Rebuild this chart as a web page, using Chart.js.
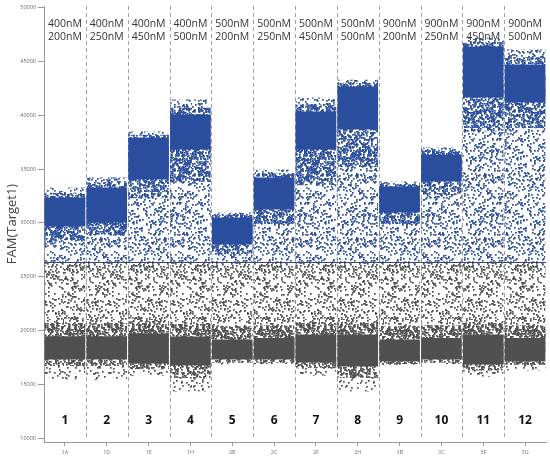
<!DOCTYPE html>
<html lang="en">
<head>
    <meta charset="UTF-8">
    <title>FAM(Target1) droplet amplitude</title>
    <script src="https://cdn.jsdelivr.net/npm/chart.js"></script>
    <style>
        html, body { margin: 0; padding: 0; background: #ffffff; }
        .chart-box { width: 550px; height: 461px; position: relative; }
    </style>
</head>
<body>
    <div class="chart-box">
        <canvas id="ampChart"></canvas>
    </div>

    <script>
        // wells and their primer/probe concentrations
        const wells = ['1A', '1D', '1E', '1H', '2B', '2C', '2F', '2H', '3B', '3C', '3F', '3G'];
        const wellNo = ['1', '2', '3', '4', '5', '6', '7', '8', '9', '10', '11', '12'];
        const primerConc = ['400nM', '400nM', '400nM', '400nM', '500nM', '500nM', '500nM', '500nM', '900nM', '900nM', '900nM', '900nM'];
        const probeConc = ['200nM', '250nM', '450nM', '500nM', '200nM', '250nM', '450nM', '500nM', '200nM', '250nM', '450nM', '500nM'];

        const threshold = 26400;
        const yTicks = [10000, 15000, 20000, 25000, 30000, 35000, 40000, 45000, 50000];

        // positive droplets (blue), amplitude ranges
        const blueCoreLow  = [29670, 30040, 34030, 36820, 27990, 31240, 36820, 38670, 30960, 33840, 41640, 41180];
        const blueCoreHigh = [32360, 33290, 37930, 40070, 30500, 34220, 40340, 42670, 33380, 36350, 46380, 44710];
        const blueHaloLow  = [28400, 28900, 32300, 33800, 27100, 29900, 33500, 35200, 29900, 32600, 38500, 38800];
        const blueHaloHigh = [32800, 33750, 38200, 40700, 30750, 34600, 41000, 43000, 33600, 36700, 46800, 45400];
        const blueTop      = [33290, 34220, 38490, 41460, 30960, 34960, 41640, 43300, 33840, 37000, 47200, 46100];

        // negative droplets (gray)
        const grayCoreLow  = [17320, 17320, 16950, 16760, 17320, 17320, 17040, 16670, 17130, 17320, 16850, 17130];
        const grayCoreHigh = [19480, 19480, 19730, 19450, 19170, 19300, 19640, 19640, 19170, 19300, 19640, 19300];
        const grayHaloLow  = [16700, 16700, 16400, 15600, 17000, 17000, 16500, 15600, 16900, 17000, 16300, 16800];
        const grayHaloHigh = [20700, 20700, 20900, 20600, 20400, 20500, 20800, 20800, 20400, 20500, 20800, 20500];
        const grayFloor    = [15460, 15400, 15800, 14350, 16800, 16900, 15800, 14350, 16800, 16900, 15700, 16300];

        const BLUE = '#2b4f9e';
        const GRAY = '#505050';

        // speckle texture for the sparse droplet areas (texture only, fixed seed)
        function speckle(color, density, seed) {
            const size = 64;
            const c = document.createElement('canvas');
            c.width = c.height = size;
            const g = c.getContext('2d');
            g.fillStyle = color;
            let s = seed;
            const next = () => (s = (s * 16807) % 2147483647) / 2147483647;
            const n = Math.round(size * size * density / 2.6);
            for (let i = 0; i < n; i++) {
                g.fillRect(Math.floor(next() * size), Math.floor(next() * size), 1.7, 1.7);
            }
            return g.createPattern(c, 'repeat');
        }

        const pair = (lo, hi) => lo.map((v, i) => [v, hi[i]]);
        const fillArr = v => wells.map(() => v);

        function layer(data, bg) {
            return {
                data: data,
                backgroundColor: bg,
                borderWidth: 0,
                grouped: false,
                inflateAmount: 0,
                barPercentage: 1,
                categoryPercentage: 0.97
            };
        }

        const datasets = [
            layer(pair(fillArr(threshold), blueTop), speckle(BLUE, 0.27, 11)),
            layer(pair(blueHaloLow, blueHaloHigh), speckle(BLUE, 0.55, 23)),
            layer(pair(blueCoreLow, blueCoreHigh), BLUE),
            layer(pair(grayCoreHigh, fillArr(threshold)), speckle(GRAY, 0.27, 37)),
            layer(pair(grayFloor, grayCoreLow), speckle(GRAY, 0.12, 41)),
            layer(pair(grayHaloLow, grayHaloHigh), speckle(GRAY, 0.55, 53)),
            layer(pair(grayCoreLow, grayCoreHigh), GRAY)
        ];

        // separators, threshold line and annotations
        const overlay = {
            id: 'overlay',
            beforeDatasetsDraw(chart) {
                const { ctx, chartArea, scales: { x } } = chart;
                ctx.save();
                ctx.strokeStyle = '#a0a0a0';
                ctx.lineWidth = 1;
                ctx.setLineDash([4, 3]);
                for (let i = 0; i < wells.length - 1; i++) {
                    const px = Math.round((x.getPixelForValue(i) + x.getPixelForValue(i + 1)) / 2) + 0.5;
                    ctx.beginPath();
                    ctx.moveTo(px, chartArea.top);
                    ctx.lineTo(px, chartArea.bottom - 2);
                    ctx.stroke();
                }
                ctx.restore();
            },
            afterDatasetsDraw(chart) {
                const { ctx, chartArea, scales: { x, y } } = chart;
                ctx.save();
                const ty = Math.round(y.getPixelForValue(threshold)) + 0.5;
                ctx.strokeStyle = '#33467e';
                ctx.lineWidth = 1;
                ctx.beginPath();
                ctx.moveTo(chartArea.left, ty);
                ctx.lineTo(chartArea.right, ty);
                ctx.stroke();

                ctx.textAlign = 'center';
                ctx.textBaseline = 'middle';
                ctx.fillStyle = '#333333';
                ctx.font = '10.5px "Open Sans", sans-serif';
                wells.forEach((w, i) => {
                    const cx = x.getPixelForValue(i);
                    ctx.fillText(primerConc[i], cx, y.getPixelForValue(48450));
                    ctx.fillText(probeConc[i], cx, y.getPixelForValue(47250));
                });
                ctx.fillStyle = '#111111';
                ctx.font = 'bold 12px "Open Sans", sans-serif';
                wells.forEach((w, i) => {
                    ctx.fillText(wellNo[i], x.getPixelForValue(i), y.getPixelForValue(11600));
                });
                ctx.restore();
            }
        };

        new Chart(document.getElementById('ampChart').getContext('2d'), {
            type: 'bar',
            data: {
                labels: wells,
                datasets: datasets
            },
            options: {
                responsive: true,
                maintainAspectRatio: false,
                animation: false,
                layout: { padding: { left: 0, right: 4, top: 6, bottom: 0 } },
                plugins: {
                    legend: { display: false },
                    tooltip: { enabled: false }
                },
                scales: {
                    x: {
                        offset: true,
                        afterFit: s => { s.height = 19; },
                        grid: { display: true, offset: false, drawOnChartArea: false, drawTicks: true, tickLength: 4, color: '#999999' },
                        border: { display: true, color: '#999999', width: 1 },
                        ticks: { color: '#777777', font: { size: 5.5, family: 'Open Sans' }, padding: 3, maxRotation: 0 }
                    },
                    y: {
                        min: 9650,
                        max: 50150,
                        afterFit: s => { s.width = 44; },
                        afterBuildTicks: s => { s.ticks = yTicks.map(v => ({ value: v })); },
                        grid: { display: true, drawOnChartArea: false, drawTicks: true, tickLength: 6, color: '#999999' },
                        border: { display: true, color: '#999999', width: 1 },
                        ticks: {
                            color: '#666666',
                            font: { size: 5.5, family: 'Open Sans' },
                            padding: 2,
                            callback: v => String(v)
                        },
                        title: {
                            display: true,
                            text: 'FAM(Target1)',
                            color: '#444444',
                            font: { size: 13, family: 'Open Sans' },
                            padding: { top: 4, bottom: 0 }
                        }
                    }
                }
            },
            plugins: [overlay]
        });
    </script>
</body>
</html>
